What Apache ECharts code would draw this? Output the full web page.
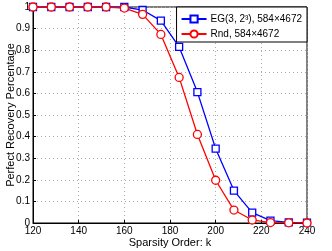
<!DOCTYPE html>
<html><head><meta charset="utf-8">
<script src="https://cdn.jsdelivr.net/npm/echarts@6/dist/echarts.min.js"></script>
<style>html,body{margin:0;padding:0;background:#fff}#c{width:332px;height:251px}</style>
</head><body><div id="c"></div>
<script>
const kValues = [120,128,136,144,152,160,168,176,184,192,200,208,216,224,232,240];
const egValues = [1,1,1,1,1,1,0.986,0.937,0.815,0.606,0.344,0.15,0.048,0.011,0.003,0.002];
const rndValues = [1,1,1,1,1,0.995,0.966,0.873,0.674,0.41,0.198,0.06,0.014,0.002,0.001,0];
const seriesNames = ['EG(3, 2³), 584×4672', 'Rnd, 584×4672'];
const xTitle = 'Sparsity Order: k';
const yTitle = 'Perfect Recovery Percentage';

const font = 'Liberation Sans, Arial, sans-serif';
const chart = echarts.init(document.getElementById('c'), null, {renderer:'canvas'});
const mk = v => kValues.map((k,i)=>[k, v[i]]);
chart.setOption({
  animation:false,
  backgroundColor:'#fff',
  grid:{left:33,right:25,top:7,bottom:28,containLabel:false,outerBoundsMode:'none',
    show:true,borderColor:'#000',borderWidth:1,backgroundColor:'transparent'},
  legend:{
    orient:'vertical', right:25, top:7,
    backgroundColor:'#fff', borderColor:'#000', borderWidth:1,
    padding:[7,5,3,4], itemGap:5, itemWidth:25, itemHeight:9,
    textStyle:{fontFamily:font,fontSize:10,color:'#000',padding:[2,0,0,-1]},
    data:seriesNames
  },
  xAxis:{
    type:'value', min:120, max:240, interval:20,
    name:xTitle, nameLocation:'middle', nameGap:14, nameMoveOverlap:false,
    nameTextStyle:{fontFamily:font,fontSize:11,color:'#000'},
    axisLine:{lineStyle:{color:'#000'}},
    axisTick:{inside:true,length:3,lineStyle:{color:'#000'}},
    axisLabel:{fontFamily:font,fontSize:10,color:'#000',margin:3},
    splitLine:{show:true,lineStyle:{color:'#aaa',type:[1,3],width:1}}
  },
  yAxis:{
    type:'value', min:0, max:1, interval:0.1,
    name:yTitle, nameLocation:'middle', nameGap:17, nameMoveOverlap:false,
    nameTextStyle:{fontFamily:font,fontSize:11,color:'#000'},
    axisLine:{lineStyle:{color:'#000'}},
    axisTick:{inside:true,length:3,lineStyle:{color:'#000'}},
    axisLabel:{fontFamily:font,fontSize:10,color:'#000',margin:3,
      formatter:v=>String(Math.round(v*10)/10)},
    splitLine:{show:true,lineStyle:{color:'#aaa',type:[1,3],width:1}}
  },
  series:[
    {name:seriesNames[0],type:'line',data:mk(egValues),symbol:'rect',symbolSize:7,
     lineStyle:{color:'#0000ff',width:1.3},itemStyle:{color:'#fff',borderColor:'#0000ff',borderWidth:1.3},color:'#0000ff'},
    {name:seriesNames[1],type:'line',data:mk(rndValues),symbol:'circle',symbolSize:8,
     lineStyle:{color:'#ff0000',width:1.3},itemStyle:{color:'#fff',borderColor:'#ff0000',borderWidth:1.3},color:'#ff0000'}
  ]
});
</script></body></html>
